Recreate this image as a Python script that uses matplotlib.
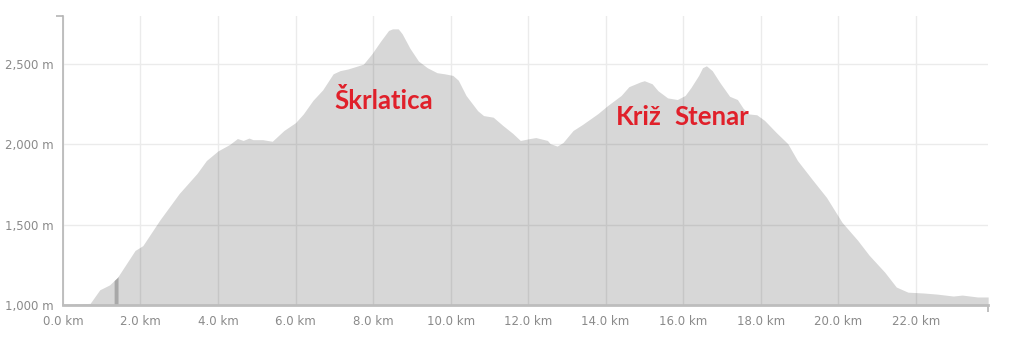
import numpy as np
import matplotlib.pyplot as plt

# elevation profile
dist_km = [0.0, 0.7, 0.95, 1.2, 1.4, 1.86, 2.06, 2.5, 3.0, 3.46, 3.7, 4.0, 4.3, 4.5,
           4.65, 4.8, 4.9, 5.15, 5.4, 5.7, 6.0, 6.2, 6.45, 6.7, 6.97, 7.15, 7.35,
           7.75, 7.97, 8.2, 8.4, 8.5, 8.65, 8.75, 8.95, 9.17, 9.4, 9.65, 9.85, 10.06,
           10.2, 10.4, 10.7, 10.85, 11.1, 11.35, 11.6, 11.8, 12.05, 12.2, 12.5, 12.57,
           12.75, 12.9, 13.16, 13.4, 13.8, 14.05, 14.4, 14.6, 14.9, 15.0, 15.2, 15.35,
           15.6, 15.85, 16.05, 16.2, 16.4, 16.5, 16.6, 16.75, 16.95, 17.2, 17.4, 17.55,
           17.7, 17.9, 18.1, 18.4, 18.7, 18.95, 19.35, 19.7, 20.1, 20.5, 20.8, 21.2,
           21.5, 21.8, 22.2, 22.55, 22.97, 23.2, 23.6, 23.87]
elev_m = [1005, 1010, 1095, 1125, 1170, 1340, 1370, 1530, 1695, 1820, 1900, 1960, 2000, 2037,
          2025, 2040, 2030, 2030, 2020, 2087, 2136, 2190, 2275, 2340, 2440, 2460, 2470,
          2500, 2565, 2645, 2710, 2720, 2720, 2690, 2600, 2520, 2478, 2447, 2440, 2430,
          2400, 2305, 2210, 2180, 2170, 2118, 2070, 2025, 2037, 2043, 2025, 2005,
          1990, 2012, 2087, 2124, 2192, 2242, 2305, 2360, 2390, 2397, 2378, 2335,
          2290, 2280, 2305, 2354, 2430, 2478, 2490, 2460, 2385, 2300, 2280, 2225,
          2190, 2185, 2150, 2075, 2005, 1900, 1776, 1670, 1515, 1404, 1310, 1205,
          1112, 1080, 1075, 1068, 1056, 1062, 1050, 1050]

x_ticks = [0, 2, 4, 6, 8, 10, 12, 14, 16, 18, 20, 22]
y_ticks = [1000, 1500, 2000, 2500]

peak_names = ['Škrlatica', 'Križ', 'Stenar']
peak_x = [8.28, 14.86, 16.75]
peak_y = [2273, 2168, 2168]

marker_km = (1.32, 1.42)

x = np.array(dist_km)
y = np.array(elev_m)

fig = plt.figure(figsize=(10.24, 3.38), dpi=100)
ax = fig.add_axes([0.0615, 0.0976, 0.9035, 0.855])

ax.fill_between(x, 1000, y, color='black', alpha=0.155, linewidth=0)

# the little darker bar near 1.4 km
xm = np.linspace(marker_km[0], marker_km[1], 5)
ax.fill_between(xm, 1000, np.interp(xm, x, y), color='#a8a8a8', linewidth=0)

for name, px, py in zip(peak_names, peak_x, peak_y):
    ax.text(px, py, name, color='#e0202a', fontsize=18.5, fontweight='bold',
            family='Lato', ha='center', va='center')

ax.set_xlim(0, x[-1])
ax.set_ylim(1000, 2800)
ax.set_xticks(x_ticks)
ax.set_xticklabels(['%.1f km' % v for v in x_ticks])
ax.set_yticks(y_ticks)
ax.set_yticklabels(['{:,} m'.format(v) for v in y_ticks])
ax.tick_params(length=0, labelsize=8.5, labelcolor='#8a8a8a', pad=7)

# end caps on the axes
ax.set_xticks([0, x[-1]], minor=True)
ax.set_yticks([1000, 2800], minor=True)
ax.tick_params(which='minor', length=5, color='#b5b5b5', width=1.2)

ax.grid(True, color='#ebebeb', linewidth=1)
ax.set_axisbelow(True)

for s in ['top', 'right']:
    ax.spines[s].set_visible(False)
ax.spines['left'].set_color('#b5b5b5')
ax.spines['left'].set_linewidth(1.2)
ax.spines['bottom'].set_color('#bdbdbd')
ax.spines['bottom'].set_linewidth(2)

fig.savefig('out.png', dpi=100)
